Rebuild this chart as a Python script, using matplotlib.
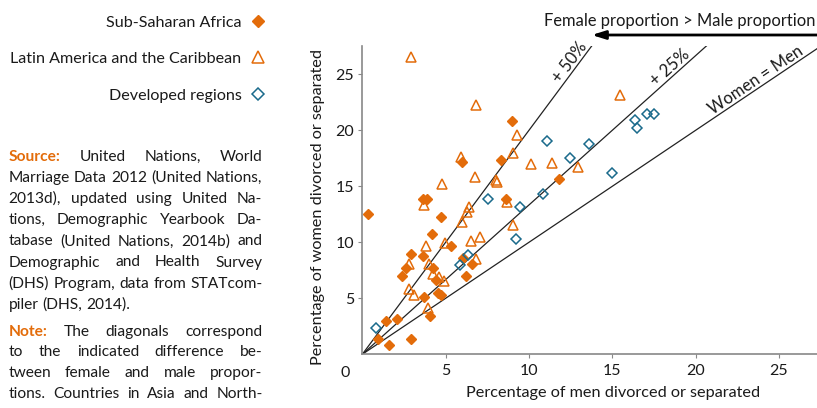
import math
import matplotlib
matplotlib.use('Agg')
import matplotlib.pyplot as plt
from matplotlib.transforms import IdentityTransform

plt.rcParams['font.family'] = ['Lato', 'DejaVu Sans']

# Sub-Saharan Africa (men %, women %)
ssa_men = [0.32, 3.62, 3.9, 4.72, 4.2, 5.3, 2.92, 3.62, 2.62, 2.4, 4.22, 4.42, 4.52, 4.72,
           3.7, 4.06, 2.1, 1.42, 0.92, 1.6, 2.92, 6.02, 6.6, 6.22, 8.6, 8.96, 6.0, 8.3, 11.78]
ssa_women = [12.5, 13.84, 13.84, 12.3, 10.77, 9.67, 8.96, 8.78, 7.68, 7.0, 7.7, 6.63, 5.5, 5.3,
             5.09, 3.45, 3.15, 2.97, 1.34, 0.85, 1.37, 8.57, 8.06, 6.99, 13.9, 20.86, 17.2, 17.33, 15.68]

# Latin America and the Caribbean
lac_men = [3.72, 8.66, 6.42, 6.3, 5.96, 9.04, 4.96, 3.8, 6.5, 7.08, 2.82, 4.0, 6.8, 4.26, 4.6,
           4.9, 2.82, 3.12, 3.96, 2.94, 6.82, 9.26, 9.04, 5.9, 10.12, 11.4, 12.96, 15.46, 6.78,
           4.76, 8.04, 8.1]
lac_women = [13.3, 13.6, 13.18, 12.68, 11.81, 11.55, 9.95, 9.67, 10.15, 10.5, 8.1, 8.06, 8.5, 7.2,
             6.87, 6.58, 5.8, 5.3, 4.1, 26.5, 22.3, 19.6, 17.97, 17.62, 17.0, 17.1, 16.7, 23.15,
             15.8, 15.2, 15.6, 15.35]

# Developed regions
dev_men = [0.84, 5.86, 6.36, 7.54, 9.46, 9.22, 10.86, 11.08, 12.46, 13.62, 14.98, 16.34, 16.5,
           17.08, 17.48]
dev_women = [2.35, 8.0, 8.87, 13.84, 13.15, 10.3, 14.28, 19.0, 17.49, 18.77, 16.16, 20.92, 20.18,
             21.46, 21.46]

# diagonals: women = ratio * men
diag_ratios = [1.0, 4.0 / 3.0, 2.0]
diag_labels = ['Women = Men', '+ 25%', '+ 50%']
diag_label_x = [23.87, 18.78, 12.82]

source_lines = [
    'Source: United Nations, World',
    'Marriage Data 2012 (United Nations,',
    '2013d), updated using United Na-',
    'tions, Demographic Yearbook Da-',
    'tabase (United Nations, 2014b) and',
    'Demographic and Health Survey',
    '(DHS) Program, data from STATcom-',
    'piler (DHS, 2014).',
]
note_lines = [
    'Note: The diagonals correspond',
    'to the indicated difference be-',
    'tween female and male propor-',
    'tions. Countries in Asia and North-',
]

orange = '#E36C0A'
blue = '#1A6A8C'
txt = '#1a1a1a'
W, H = 817, 408
xmax, ymax = 27.28, 27.55

fig = plt.figure(figsize=(W / 100, H / 100), dpi=100)
ax = fig.add_axes([362.3 / W, 1 - 354.3 / H, 454.7 / W, 308.6 / H])

for r in diag_ratios:
    ax.plot([0, xmax], [0, r * xmax], color='#222222', lw=0.9, zorder=1)

h1, = ax.plot(ssa_men, ssa_women, ls='none', marker='D', ms=4.6, color=orange,
              mec=orange, label='Sub-Saharan Africa', zorder=3)
h2, = ax.plot(lac_men, lac_women, ls='none', marker='^', ms=7, mfc='none', mec=orange,
              mew=1.1, label='Latin America and the Caribbean', zorder=3)
h3, = ax.plot(dev_men, dev_women, ls='none', marker='D', ms=5.2, mfc='none', mec=blue,
              mew=1.1, label='Developed regions', zorder=3)

ax.set_xlim(0, xmax)
ax.set_ylim(0, ymax)
for s in ['top', 'right']:
    ax.spines[s].set_visible(False)
for s in ['left', 'bottom']:
    ax.spines[s].set_color('#888888')
    ax.spines[s].set_linewidth(1.2)
ax.set_xticks([5, 10, 15, 20, 25])
ax.set_yticks([5, 10, 15, 20, 25])
ax.tick_params(axis='both', direction='out', length=3, width=0.8, color='#888888',
               labelsize=11.5, labelcolor=txt)
ax.tick_params(axis='x', pad=4)
ax.tick_params(axis='y', pad=3)
ax.annotate('0', xy=(0, 0), xytext=(-12, -13.3), textcoords='offset points',
            ha='center', va='center', fontsize=11.5, color=txt)

ax.set_xlabel('Percentage of men divorced or separated', fontsize=11.7, color=txt)
ax.xaxis.set_label_coords(0.551, -0.104)
ax.set_ylabel('Percentage of women divorced or separated', fontsize=11.7, color=txt)
ax.yaxis.set_label_coords(-0.082, 0.476)

# rotated diagonal labels
for r, lab, lx in zip(diag_ratios, diag_labels, diag_label_x):
    p0 = ax.transData.transform((0, 0))
    p1 = ax.transData.transform((10, 10 * r))
    ang = math.degrees(math.atan2(p1[1] - p0[1], p1[0] - p0[0]))
    ax.text(lx, r * lx, lab, rotation=ang, rotation_mode='anchor', ha='center', va='bottom',
            fontsize=12, color=txt)

# arrow and header
ax.annotate('', xy=(591.7, H - 35), xycoords='figure pixels', xytext=(W + 5, H - 35),
            textcoords='figure pixels',
            arrowprops=dict(arrowstyle='-|>,head_length=0.8,head_width=0.25', lw=2,
                            color='black', shrinkA=0, shrinkB=0))
fig.text(815, H - 26, 'Female proportion > Male proportion', transform=IdentityTransform(),
         ha='right', va='baseline', fontsize=11.9, color=txt)

# legend with markers on the right
fig.legend(handles=[h1, h2, h3], loc='center right', bbox_to_anchor=(266 / W, 1 - 59 / H),
           markerfirst=False, frameon=False, handlelength=1.0, handletextpad=0.52,
           borderpad=0, borderaxespad=0, labelspacing=1.38, fontsize=11.6, markerscale=1.25,
           labelcolor=txt)

# justified source / note block
renderer = fig.canvas.get_renderer()
ident = IdentityTransform()
body_size = 11.2
x_left, x_right = 8.5, 262.5


def measure(s, **kw):
    t = fig.text(0, 0, s, transform=ident, fontsize=body_size, **kw)
    w = t.get_window_extent(renderer).width
    t.remove()
    return w


space_w = measure('x x') - measure('xx')


def draw_line(line, baseline, justify):
    words = line.split(' ')
    arts = []
    for w in words:
        if w in ('Source:', 'Note:'):
            t = fig.text(0, H - baseline, w, transform=ident, fontsize=body_size,
                         fontweight='bold', color=orange, va='baseline')
        else:
            t = fig.text(0, H - baseline, w, transform=ident, fontsize=body_size,
                         color=txt, va='baseline')
        arts.append(t)
    widths = [t.get_window_extent(renderer).width for t in arts]
    if justify and len(arts) > 1:
        gap = (x_right - x_left - sum(widths)) / (len(arts) - 1)
    else:
        gap = space_w
    x = x_left
    for t, w in zip(arts, widths):
        t.set_x(x)
        x += w + gap


src_base = 161.0
for i, line in enumerate(source_lines):
    draw_line(line, src_base + 21.1 * i, i < len(source_lines) - 1)
note_base = 335.7
for i, line in enumerate(note_lines):
    draw_line(line, note_base + 20.6 * i, True)

fig.savefig('out.png', dpi=100)
